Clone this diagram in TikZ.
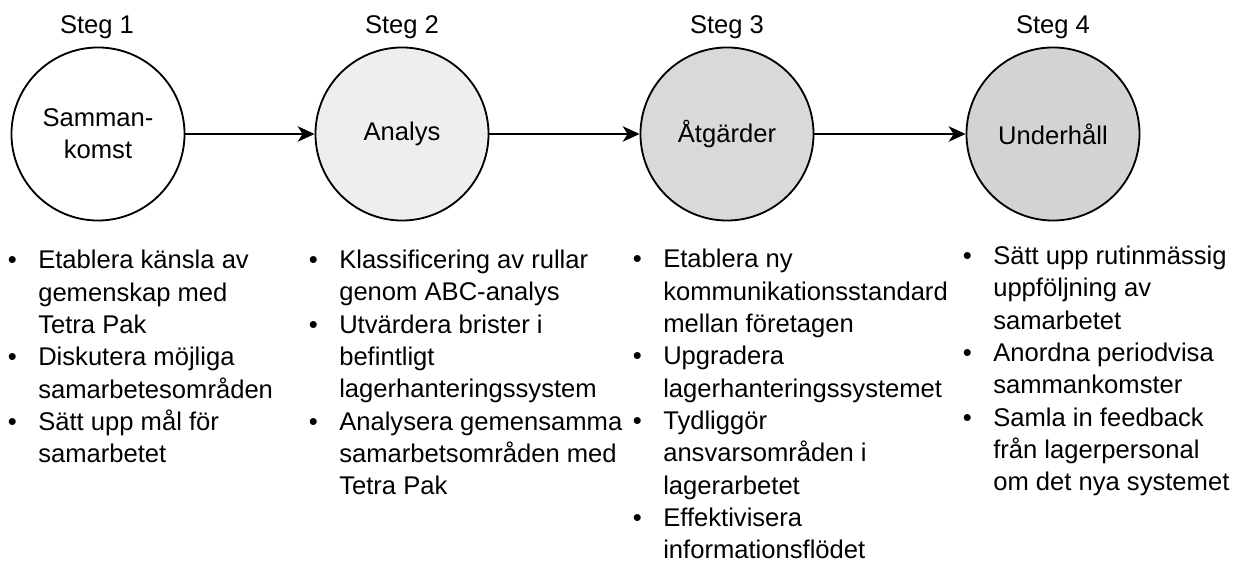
\documentclass[tikz,border=0pt]{standalone}
\usepackage{fontspec}
\setmainfont{Liberation Sans}
\usepackage{xcolor}
\usetikzlibrary{arrows.meta,positioning}
\definecolor{fill2}{HTML}{EEEEEE}
\definecolor{fill3}{HTML}{D9D9D9}
\definecolor{fill4}{HTML}{D3D3D3}

% bullet hanging left of the text
\newcommand{\pkt}{\llap{\textbullet\hspace{15.3pt}}}

\begin{document}
\begin{tikzpicture}[
          x=0.025cm, y=-0.025cm,
          every node/.style={font=\fontsize{18.2}{23}\selectfont},
          stage/.style={draw,circle,line width=1.3pt,minimum size=4.325cm,
                        inner sep=0pt,align=center},
          steglbl/.style={anchor=center},
          % base = baseline of the last line
          punkter/.style={anchor=base west,align=left,inner sep=0pt},
          arr/.style={-{Stealth[length=12pt,width=11pt,inset=3.5pt]},line width=1.3pt},
      ]
        \useasboundingbox (0,0) rectangle (1245,563);

        % the four stages
        \node[stage] (s1) at (98,134) {Samman-\\komst};
        \node[stage,fill=fill2] (s2) at (402,134) {Analys};
        \node[stage,fill=fill3] (s3) at (727,134) {Åtgärder};
        \node[stage,fill=fill4] (s4) at (1053,134) {Underhåll};

        \node[steglbl] (t1) at (97,27) {Steg 1};
        \node[steglbl] (t2) at (402,27) {Steg 2};
        \node[steglbl] (t3) at (727,27) {Steg 3};
        \node[steglbl] (t4) at (1053,27) {Steg 4};

        \draw[arr] (s1) -- (s2);
        \draw[arr] (s2) -- (s3);
        \draw[arr] (s3) -- (s4);

        % what happens in each stage
        \node[punkter] (p1) at (38,463)
          {\pkt Etablera känsla av\\ gemenskap med\\ Tetra Pak\\
           \pkt Diskutera möjliga\\ samarbetesområden\\
           \pkt Sätt upp mål för\\ samarbetet};
        \node[punkter] (p2) at (339,495)
          {\pkt Klassificering av rullar\\ genom ABC-analys\\
           \pkt Utvärdera brister i\\ befintligt\\ lagerhanteringssystem\\
           \pkt Analysera gemensamma\\ samarbetsområden med\\ Tetra Pak};
        \node[punkter] (p3) at (663,559)
          {\pkt Etablera ny\\ kommunikationsstandard\\ mellan företagen\\
           \pkt Upgradera\\ lagerhanteringssystemet\\
           \pkt Tydliggör\\ ansvarsområden i\\ lagerarbetet\\
           \pkt Effektivisera\\ informationsflödet};
        \node[punkter] (p4) at (993,491)
          {\pkt Sätt upp rutinmässig\\ uppföljning av\\ samarbetet\\
           \pkt Anordna periodvisa\\ sammankomster\\
           \pkt Samla in feedback\\ från lagerpersonal\\ om det nya systemet};
      \end{tikzpicture}
\end{document}
